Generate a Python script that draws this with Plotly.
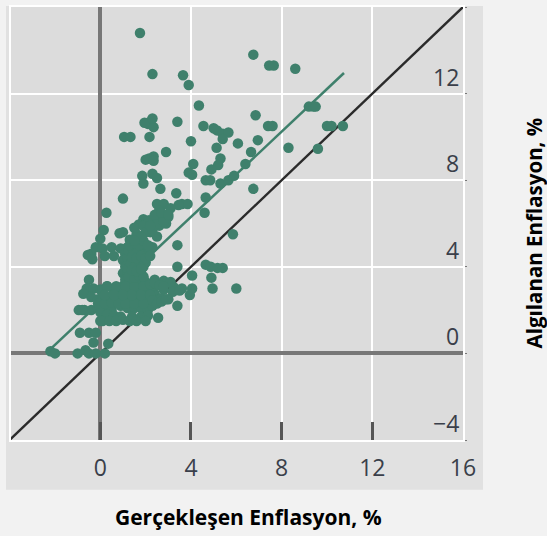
import plotly.graph_objects as go

actual = [
 1.75,2.3,3.65,3.9,4.35,6.75,7.45,7.65,8.6,6.85,2.2,2.1,2.35,1.95,2.3,3.4,4.55,5.15,5.0,5.4,5.65,5.4,7.4,7.6,
 1.05,1.33,2.17,4.0,6.07,6.95,5.13,6.65,2.9,2.35,2.15,2.0,2.35,5.3,4.1,5.2,6.4,4.9,3.9,4.05,1.85,2.3,2.5,1.9,
 4.65,4.85,5.3,5.65,5.9,2.65,3.35,6.75,1.0,4.65,3.6,3.85,3.45,2.5,2.8,3.1,4.6,0.27,
 9.2,9.4,9.5,10.0,10.2,10.7,9.6,8.3,
 0.15,0.0,0.85,3.4,5.85,
 2.6,3.0,2.9,2.5,1.9,2.15,2.6,1.7,1.6,1.0,1.3,1.5,1.9,2.2,2.5,1.2,
 -0.2,-0.4,0.1,0.5,0.9,1.1,1.4,1.7,2.0,2.3,-0.55,-0.35,0.2,0.6,1.2,1.5,1.8,2.1,
 1.0,1.2,1.4,1.6,1.8,2.0,1.1,1.3,1.5,1.7,1.9,1.0,1.2,1.4,1.6,1.8,1.1,1.3,1.5,1.7,1.9,1.2,1.4,1.6,1.8,
 3.4,4.65,4.87,5.17,5.4,4.05,4.9,4.95,6.0,4.05,3.95,3.6,3.25,3.4,2.55,
 2.0,2.4,2.8,3.1,-0.5,-0.6,-0.3,-0.75,0.0,0.3,0.6,0.9,1.2,1.6,2.0,2.4,2.8,3.2,3.5,
 -0.4,-0.1,0.3,0.6,1.0,1.3,1.7,2.0,2.4,2.7,3.0,
 -0.95,-0.7,-0.4,-0.1,0.2,0.5,0.9,1.2,1.5,1.8,2.1,2.3,
 0.0,0.3,0.6,0.9,1.4,1.8,2.1,
 -0.9,-0.5,-0.2,-0.3,0.35,-2.2,-2.0,-1.0,-0.65,-0.5,-0.2,0.2,-0.8,0.0,
 -0.1,0.2,0.5,0.8,1.1,1.5,1.9,0.1,0.4,0.7,1.0,1.3,1.6,2.0,
 0.3,0.7,1.1,1.5,1.9,2.3,0.2,0.6,1.0,1.4,1.8,2.2,
 1.25,1.45,1.65,1.85,1.35,1.55,1.75,1.95,1.25,1.5,1.7,1.9,1.4,1.6,1.8,
 2.3,2.5,2.7,2.9,2.2,2.4,2.6,2.8,
 1.3,1.5,1.7,1.9,2.1,1.4,1.6,1.8,2.0,2.2,
 2.0,2.3,2.5,2.8,2.4,2.7,3.0,2.2,1.8,1.5,
]
perceived = [
 14.8,12.9,12.85,12.4,11.45,13.8,13.3,13.3,13.15,11.0,10.7,10.6,10.45,10.65,10.85,10.7,10.5,10.3,10.4,10.15,10.2,9.9,10.5,10.5,
 10.0,10.0,10.0,9.8,9.7,9.85,9.5,9.3,9.3,9.1,9.0,8.95,8.9,9.0,8.75,8.7,8.75,8.5,8.35,8.25,8.2,8.3,8.1,7.85,
 8.0,8.0,7.85,8.0,8.2,7.6,7.4,7.6,7.15,7.2,6.9,6.9,6.85,6.9,6.9,6.7,6.5,6.5,
 11.4,11.4,11.4,10.5,10.5,10.5,9.45,9.5,
 5.7,5.3,5.55,5.0,5.5,
 6.6,6.3,6.0,6.2,6.2,6.15,5.9,5.95,5.5,5.6,5.25,5.8,5.9,5.6,5.4,4.9,
 4.9,4.6,4.85,4.9,4.85,4.6,4.9,4.7,5.0,4.9,4.55,4.35,4.5,4.5,4.5,5.1,4.9,4.7,
 4.3,4.4,4.3,4.2,4.4,4.2,4.0,4.0,4.1,3.9,4.0,3.7,3.7,3.8,3.6,3.7,3.4,3.4,3.5,3.4,3.5,3.9,3.2,3.2,3.3,
 4.0,4.1,4.0,3.95,3.95,3.6,3.5,3.0,3.0,3.0,2.7,3.0,3.05,2.2,1.65,
 3.3,3.4,3.35,3.3,3.4,3.0,3.0,2.75,2.95,3.1,2.8,3.0,2.9,3.0,2.9,2.75,2.95,2.85,2.9,
 2.6,2.5,2.55,2.6,2.55,2.6,2.5,2.6,2.5,2.55,2.5,
 2.0,2.0,2.0,2.1,2.1,2.0,2.2,2.1,2.1,2.1,2.0,2.2,
 1.9,1.8,1.75,1.7,1.7,1.7,1.75,
 0.95,0.95,0.95,0.5,0.45,0.1,0.0,0.0,0.15,0.0,0.0,0.0,2.0,1.5,
 2.3,2.3,2.35,2.3,2.3,2.3,2.3,1.5,1.5,1.5,1.55,1.5,1.5,1.5,
 3.1,3.1,3.1,3.1,3.1,3.1,2.7,2.7,2.7,2.7,2.7,2.7,
 4.75,4.6,4.8,4.55,4.15,4.05,4.25,4.15,3.55,3.5,3.6,3.55,3.85,3.8,3.9,
 2.45,2.3,2.4,2.5,3.2,3.25,3.15,3.1,
 5.0,5.1,5.0,5.2,5.0,4.45,4.4,4.5,4.4,4.5,
 5.6,5.7,6.0,6.1,6.4,6.5,6.4,5.9,5.4,5.2,
]
identity_line = [-4, 16]
fit_x = [-2.2, 10.75]
fit_y = [0.2, 12.95]
x_ticks = [-4, 0, 4, 8, 12, 16]
x_tick_labels = ["", "0", "4", "8", "12", "16"]
y_ticks = [-4, 0, 4, 8, 12, 16]
y_labels = ["\u22124", "0", "4", "8", "12"]
y_label_values = [-4, 0, 4, 8, 12]
x_title = "Gerçekleşen Enflasyon, %"
y_title = "Algılanan Enflasyon, %"

GREEN = "#3f806c"
FONT = "Open Sans"
TICK_COL = "#3a3f4a"

fig = go.Figure()
fig.add_trace(go.Scatter(x=fit_x, y=fit_y, mode="lines", line=dict(color=GREEN, width=2.5), hoverinfo="skip"))
fig.add_trace(go.Scatter(x=identity_line, y=identity_line, mode="lines", line=dict(color="#2b2b2b", width=2.4), hoverinfo="skip"))
fig.add_trace(go.Scatter(x=actual, y=perceived, mode="markers", marker=dict(color=GREEN, size=10.5, line=dict(width=0))))

fig.add_shape(type="rect", xref="paper", yref="paper", x0=-5/452, x1=472/452, y0=(536-490-96)/435, y1=(536-4-96)/435,
              fillcolor="#e1e1e1", line_width=0, layer="below")
fig.add_shape(type="rect", xref="paper", yref="paper", x0=0, x1=1, y0=0, y1=1,
              fillcolor="#dcdcdc", line_width=0, layer="below")

for v, t in zip(y_label_values, y_labels):
    fig.add_annotation(x=1, xref="paper", y=v, yref="y", text=t, showarrow=False, xanchor="right", yanchor="bottom",
                       xshift=-2, yshift=-1, font=dict(family=FONT, size=23, color=TICK_COL))
fig.add_annotation(x=(248-11)/452, xref="paper", y=(536-96-517)/435, yref="paper", text=f"<b>{x_title}</b>", showarrow=False,
                   xanchor="center", yanchor="middle", font=dict(family=FONT, size=21, color="#000000"))
fig.add_annotation(x=(533.5-11)/452, xref="paper", y=(536-96-232)/435, yref="paper", text=f"<b>{y_title}</b>", showarrow=False,
                   xanchor="center", yanchor="middle", textangle=-90, font=dict(family=FONT, size=20.5, color="#000000"))

fig.update_layout(
    width=547, height=536, showlegend=False,
    margin=dict(l=11, r=84, t=5, b=96),
    paper_bgcolor="#f2f2f2", plot_bgcolor="#dcdcdc",
    xaxis=dict(range=[-3.94, 16], tickvals=x_ticks, ticktext=x_tick_labels, ticks="inside", ticklen=18, tickwidth=3,
               tickcolor="#555555", showgrid=True, gridcolor="#ffffff", gridwidth=2, zeroline=True, zerolinecolor="#777777",
               zerolinewidth=4, showline=True, linecolor="#ffffff", linewidth=2, mirror=True, ticklabelstandoff=6,
               tickfont=dict(family=FONT, size=23, color=TICK_COL)),
    yaxis=dict(range=[-4, 16], side="right", tickvals=y_ticks, showticklabels=False, ticks="outside", ticklen=2, tickwidth=1,
               tickcolor="#777777", showgrid=True, gridcolor="#ffffff", gridwidth=2, zeroline=True, zerolinecolor="#777777",
               zerolinewidth=4, showline=True, linecolor="#ffffff", linewidth=2, mirror=True),
)
fig.write_html("out.html", config={"displayModeBar": False},
               post_script="document.body.style.margin='0';document.documentElement.style.background='#f2f2f2';document.body.style.overflow='hidden';")
